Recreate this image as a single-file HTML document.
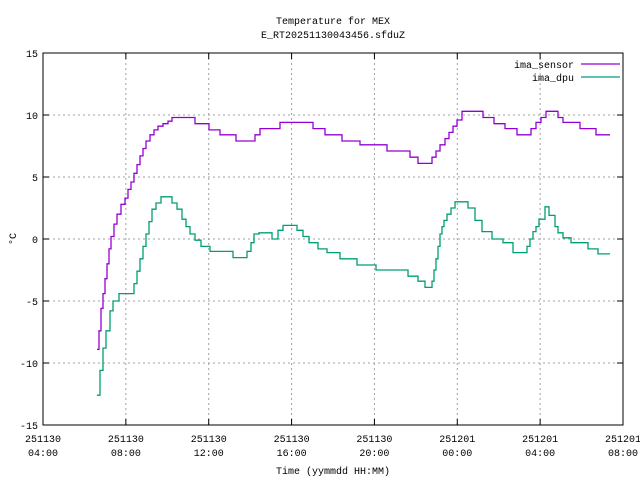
<!DOCTYPE html>
<html><head><meta charset="utf-8"><style>
html,body{margin:0;padding:0;background:#fff;}
svg{display:block;font-family:"Liberation Mono","DejaVu Sans Mono",monospace;font-size:10px;}
</style></head><body>
<svg id="chart" width="640" height="480" viewBox="0 0 640 480" xmlns="http://www.w3.org/2000/svg">
<rect width="640" height="480" fill="#fff"/>
<text x="333" y="24" text-anchor="middle">Temperature for MEX</text>
<text x="333" y="38" text-anchor="middle">E_RT20251130043456.sfduZ</text>
<text x="333" y="474" text-anchor="middle">Time (yymmdd HH:MM)</text>
<text x="16" y="239" text-anchor="middle" transform="rotate(-90 16 239)">°C</text>
<g id="grid"></g>
<g id="axes"></g>
<g id="series"></g>
<g>
<text x="574" y="68" text-anchor="end">ima_sensor</text>
<line x1="581" y1="64" x2="620" y2="64" stroke="#9400d3" stroke-width="1.3"/>
<text x="574" y="81" text-anchor="end">ima_dpu</text>
<line x1="581" y1="77" x2="620" y2="77" stroke="#009e73" stroke-width="1.3"/>
</g>
</svg>
<script>
// hours since 251130 04:00
const yTicks = [-15,-10,-5,0,5,10,15];
const xTickHours = [0,4,8,12,16,20,24,28];
const xTickDates = ["251130","251130","251130","251130","251130","251201","251201","251201"];
const xTickTimes = ["04:00","08:00","12:00","16:00","20:00","00:00","04:00","08:00"];
const sensorX = [97,99,101,103,105,107,109,111,114,117,121,125,128,131,134,137,140,143,146,150,154,158,163,168,172,195,209,220,236,255,260,280,313,325,342,360,387,410,418,432,436,440,445,449,453,457,462,483,494,505,517,531,536,541,546,558,563,580,596,610];
const sensorV = [-8.9,-7.4,-5.6,-4.4,-3.2,-2,-0.8,0.2,1.2,2,2.8,3.3,4,4.6,5.3,6,6.7,7.3,7.9,8.4,8.8,9.1,9.3,9.5,9.8,9.3,8.8,8.4,7.9,8.4,8.9,9.4,8.9,8.4,7.9,7.6,7.1,6.6,6.1,6.6,7.1,7.6,8.1,8.6,9.1,9.6,10.3,9.8,9.3,8.9,8.4,8.9,9.4,9.8,10.3,9.8,9.4,8.9,8.4,8.4];
const dpuX = [97,100,103,106,110,113,119,134,137,140,143,146,149,152,156,161,172,177,182,186,190,195,201,210,233,247,251,254,259,272,278,283,297,303,309,318,327,340,357,376,408,418,425,432,434,436,438,440,442,444,447,451,455,468,475,482,492,503,513,527,530,533,536,539,545,549,555,558,563,571,588,598,610];
const dpuV = [-12.6,-10.6,-8.8,-7.4,-5.8,-5,-4.4,-3.6,-2.6,-1.6,-0.6,0.4,1.4,2.4,2.9,3.4,2.9,2.4,1.6,1,0.4,-0.1,-0.6,-1,-1.5,-1,-0.3,0.4,0.5,0,0.7,1.1,0.7,0.2,-0.3,-0.8,-1.1,-1.6,-2.1,-2.5,-3,-3.4,-3.9,-3.4,-2.5,-1.6,-0.6,0.4,1,1.5,2,2.5,3,2.5,1.5,0.6,0,-0.3,-1.1,-0.6,0,0.6,1,1.6,2.6,1.9,1,0.5,0.1,-0.3,-0.8,-1.2,-1.2];

const L=43,R=623,T=53,B=425;
function sy(v){return B-(v+15)/30*(B-T);}
function sx(h){return L+h/28*(R-L);}
function px2h(p){return (p-L)/(R-L)*28;}
const NS="http://www.w3.org/2000/svg";
function mk(tag,attrs,parent){const e=document.createElementNS(NS,tag);for(const k in attrs)e.setAttribute(k,attrs[k]);parent.appendChild(e);return e;}
const grid=document.getElementById('grid'),axes=document.getElementById('axes'),series=document.getElementById('series');
yTicks.forEach((v,i)=>{
  const y=sy(v);
  if(v>-15&&v<15){const g=mk('line',{x1:L,x2:R,y1:y,y2:y,stroke:'#a0a0a0','stroke-dasharray':'2,3'},grid);
  
  }
  [[L,L+6],[R-6,R]].forEach(p=>{const t=mk('line',{x1:p[0],x2:p[1],y1:y,y2:y,stroke:'#000'},axes);
  
  });
  const lb=mk('text',{x:L-5,y:y+4,'text-anchor':'end'},axes);lb.textContent=v;
  
  
});
xTickHours.forEach((h,i)=>{
  const x=sx(h);
  if(i>0&&i<xTickHours.length-1){const g=mk('line',{x1:x,x2:x,y1:T,y2:B,stroke:'#a0a0a0','stroke-dasharray':'2,3'},grid);
  
  }
  [[B-6,B],[T,T+6]].forEach(p=>{const t=mk('line',{x1:x,x2:x,y1:p[0],y2:p[1],stroke:'#000'},axes);
  
  });
  const l1=mk('text',{x:x,y:442,'text-anchor':'middle'},axes);l1.textContent=xTickDates[i];
  
  
  const l2=mk('text',{x:x,y:456,'text-anchor':'middle'},axes);l2.textContent=xTickTimes[i];
  
  
});
const border=mk('rect',{x:L,y:T,width:R-L,height:B-T,fill:'none',stroke:'#000'},axes);


function stepPath(xs,vs){let d='';for(let i=0;i<xs.length;i++){const x=sx(px2h(xs[i])),y=sy(vs[i]);
  if(i===0)d+='M'+x.toFixed(1)+','+y.toFixed(1);else d+='H'+x.toFixed(1)+'V'+y.toFixed(1);}return d;}
const p1=mk('path',{d:stepPath(sensorX,sensorV),fill:'none',stroke:'#9400d3','stroke-width':1.3},series);


const p2=mk('path',{d:stepPath(dpuX,dpuV),fill:'none',stroke:'#009e73','stroke-width':1.3},series);


</script>
</body></html>
